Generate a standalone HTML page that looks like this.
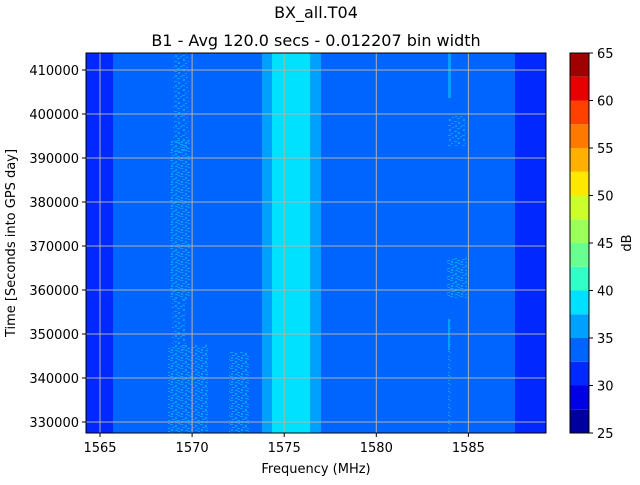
<!DOCTYPE html>
<html><head><meta charset="utf-8"><style>
html,body{margin:0;padding:0;background:#fff;}
svg text{font-family:"DejaVu Sans","Liberation Sans",sans-serif;fill:#000;}
</style></head><body>
<svg width="640" height="480" viewBox="0 0 640 480" xmlns="http://www.w3.org/2000/svg">
<defs>
<pattern id="sp" width="14" height="10" patternUnits="userSpaceOnUse">
<rect x="1" y="0" width="2" height="1" fill="#00a0ff"/>
<rect x="6" y="1" width="3" height="1" fill="#00a0ff"/>
<rect x="10" y="2" width="2" height="2" fill="#00a0ff"/>
<rect x="3" y="3" width="2" height="1" fill="#00a0ff"/>
<rect x="0" y="5" width="3" height="1" fill="#00a0ff"/>
<rect x="7" y="5" width="2" height="2" fill="#00a0ff"/>
<rect x="12" y="6" width="2" height="1" fill="#00a0ff"/>
<rect x="4" y="7" width="2" height="1" fill="#00a0ff"/>
<rect x="9" y="8" width="3" height="1" fill="#00a0ff"/>
<rect x="1" y="9" width="2" height="1" fill="#00a0ff"/>
</pattern>
<pattern id="sp2" width="10" height="8" patternUnits="userSpaceOnUse">
<rect x="0" y="0" width="3" height="1" fill="#00a0ff"/>
<rect x="5" y="1" width="2" height="2" fill="#00a0ff"/>
<rect x="2" y="3" width="3" height="1" fill="#00a0ff"/>
<rect x="7" y="4" width="3" height="1" fill="#00a0ff"/>
<rect x="1" y="5" width="2" height="2" fill="#00a0ff"/>
<rect x="5" y="6" width="3" height="1" fill="#00a0ff"/>
<rect x="8" y="7" width="2" height="1" fill="#00a0ff"/>
</pattern>
</defs>
<text x="316" y="18" font-size="16" text-anchor="middle">BX_all.T04</text>
<text x="316" y="46" font-size="16" text-anchor="middle">B1 - Avg 120.0 secs - 0.012207 bin width</text>

<!-- plot -->
<rect x="86" y="53" width="460" height="380" fill="#0064ff"/>
<rect x="86" y="53" width="27" height="380" fill="#0028ff"/>
<rect x="515" y="53" width="31" height="380" fill="#0028ff"/>
<rect x="262" y="53" width="59" height="380" fill="#00a0ff"/>
<rect x="272" y="53" width="38" height="380" fill="#00e0ff"/>
<!-- speckle bands -->
<rect x="173" y="53" width="16" height="100" fill="url(#sp)"/>
<rect x="170" y="140" width="20" height="160" fill="url(#sp2)"/>
<rect x="172" y="300" width="14" height="50" fill="url(#sp)"/>
<rect x="168" y="345" width="40" height="88" fill="url(#sp2)"/>
<rect x="229" y="352" width="20" height="81" fill="url(#sp2)"/>
<rect x="448" y="53" width="3" height="45" fill="#00a0ff"/>
<rect x="448" y="116" width="18" height="30" fill="url(#sp)"/>
<rect x="447" y="258" width="20" height="40" fill="url(#sp2)"/>
<rect x="448" y="318" width="3" height="115" fill="url(#sp2)"/>
<rect x="448" y="320" width="2" height="30" fill="#00a0ff"/>
<!-- grid -->
<g stroke="#b0b0b0" stroke-width="1">
<line x1="100" y1="53" x2="100" y2="433"/>
<line x1="192.1" y1="53" x2="192.1" y2="433"/>
<line x1="284.2" y1="53" x2="284.2" y2="433"/>
<line x1="376.3" y1="53" x2="376.3" y2="433"/>
<line x1="468.4" y1="53" x2="468.4" y2="433"/>
<line x1="86" y1="70" x2="546" y2="70"/>
<line x1="86" y1="114" x2="546" y2="114"/>
<line x1="86" y1="158" x2="546" y2="158"/>
<line x1="86" y1="202" x2="546" y2="202"/>
<line x1="86" y1="246" x2="546" y2="246"/>
<line x1="86" y1="290" x2="546" y2="290"/>
<line x1="86" y1="334" x2="546" y2="334"/>
<line x1="86" y1="378" x2="546" y2="378"/>
<line x1="86" y1="422" x2="546" y2="422"/>
</g>
<rect x="86" y="53" width="460" height="380" fill="none" stroke="#000" stroke-width="1"/>
<g stroke="#000" stroke-width="1">
<line x1="100" y1="433" x2="100" y2="437"/>
<line x1="192.1" y1="433" x2="192.1" y2="437"/>
<line x1="284.2" y1="433" x2="284.2" y2="437"/>
<line x1="376.3" y1="433" x2="376.3" y2="437"/>
<line x1="468.4" y1="433" x2="468.4" y2="437"/>
<line x1="82" y1="70" x2="86" y2="70"/>
<line x1="82" y1="114" x2="86" y2="114"/>
<line x1="82" y1="158" x2="86" y2="158"/>
<line x1="82" y1="202" x2="86" y2="202"/>
<line x1="82" y1="246" x2="86" y2="246"/>
<line x1="82" y1="290" x2="86" y2="290"/>
<line x1="82" y1="334" x2="86" y2="334"/>
<line x1="82" y1="378" x2="86" y2="378"/>
<line x1="82" y1="422" x2="86" y2="422"/>
</g>
<g font-size="13" text-anchor="middle">
<text x="100" y="452">1565</text>
<text x="192.1" y="452">1570</text>
<text x="284.2" y="452">1575</text>
<text x="376.3" y="452">1580</text>
<text x="468.4" y="452">1585</text>
</g>
<g font-size="13" text-anchor="end">
<text x="79" y="75">410000</text>
<text x="79" y="119">400000</text>
<text x="79" y="163">390000</text>
<text x="79" y="207">380000</text>
<text x="79" y="251">370000</text>
<text x="79" y="295">360000</text>
<text x="79" y="339">350000</text>
<text x="79" y="383">340000</text>
<text x="79" y="427">330000</text>
</g>
<text x="316" y="473" font-size="13" text-anchor="middle">Frequency (MHz)</text>
<text transform="translate(15,243) rotate(-90)" font-size="13" text-anchor="middle">Time [Seconds into GPS day]</text>

<!-- colorbar -->
<g>
<rect x="570" y="409.25" width="19" height="23.75" fill="#00009f"/>
<rect x="570" y="385.5" width="19" height="23.75" fill="#0000e4"/>
<rect x="570" y="361.75" width="19" height="23.75" fill="#0028ff"/>
<rect x="570" y="338" width="19" height="23.75" fill="#0064ff"/>
<rect x="570" y="314.25" width="19" height="23.75" fill="#00a0ff"/>
<rect x="570" y="290.5" width="19" height="23.75" fill="#00e0ff"/>
<rect x="570" y="266.75" width="19" height="23.75" fill="#30ffc8"/>
<rect x="570" y="243" width="19" height="23.75" fill="#68ff90"/>
<rect x="570" y="219.25" width="19" height="23.75" fill="#9cff5a"/>
<rect x="570" y="195.5" width="19" height="23.75" fill="#ccff2a"/>
<rect x="570" y="171.75" width="19" height="23.75" fill="#ffe800"/>
<rect x="570" y="148" width="19" height="23.75" fill="#ffb000"/>
<rect x="570" y="124.25" width="19" height="23.75" fill="#ff7800"/>
<rect x="570" y="100.5" width="19" height="23.75" fill="#ff4000"/>
<rect x="570" y="76.75" width="19" height="23.75" fill="#e60000"/>
<rect x="570" y="53" width="19" height="23.75" fill="#9f0000"/>
<rect x="570" y="53" width="19" height="380" fill="none" stroke="#000" stroke-width="1"/>
</g>
<g stroke="#000" stroke-width="1">
<line x1="589" y1="433" x2="593" y2="433"/>
<line x1="589" y1="385.5" x2="593" y2="385.5"/>
<line x1="589" y1="338" x2="593" y2="338"/>
<line x1="589" y1="290.5" x2="593" y2="290.5"/>
<line x1="589" y1="243" x2="593" y2="243"/>
<line x1="589" y1="195.5" x2="593" y2="195.5"/>
<line x1="589" y1="148" x2="593" y2="148"/>
<line x1="589" y1="100.5" x2="593" y2="100.5"/>
<line x1="589" y1="53" x2="593" y2="53"/>
</g>
<g font-size="13">
<text x="597" y="438">25</text>
<text x="597" y="390.5">30</text>
<text x="597" y="343">35</text>
<text x="597" y="295.5">40</text>
<text x="597" y="248">45</text>
<text x="597" y="200.5">50</text>
<text x="597" y="153">55</text>
<text x="597" y="105.5">60</text>
<text x="597" y="58">65</text>
</g>
<text transform="translate(631,243) rotate(-90)" font-size="13" text-anchor="middle">dB</text>
</svg>
</body></html>
